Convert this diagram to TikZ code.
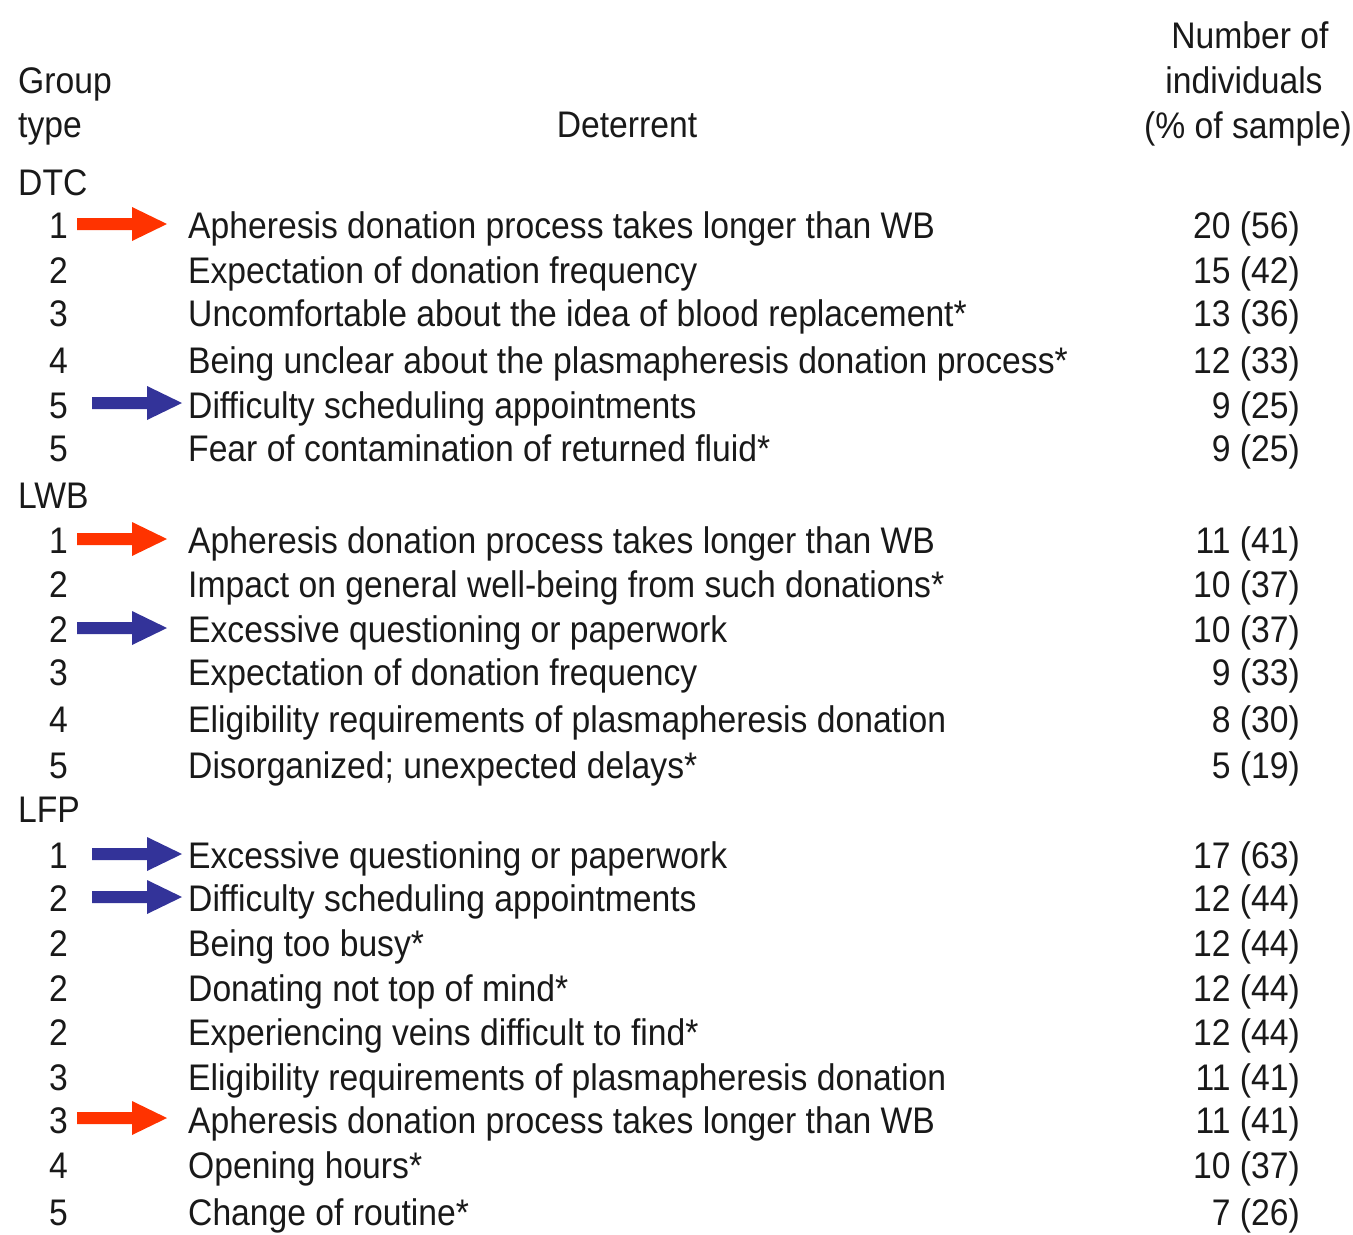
\documentclass[tikz,border=0pt]{standalone}
\usepackage{fontspec}
\setmainfont[FakeStretch=0.91]{Liberation Sans}
\definecolor{arrred}{HTML}{FF3300}
\definecolor{arrblue}{HTML}{333399}
\tikzset{
  txt/.style={inner sep=0pt, font=\fontsize{37}{44}\selectfont, text=black!90},
  lbl/.style={txt, anchor=base west},
  rk/.style={txt, anchor=base east},
  num/.style={txt, anchor=base east},
  hdr/.style={txt, anchor=base},
  fatarrow/.pic={\fill (0,-6) -- (55,-6) -- (55,-17) -- (90,0) -- (55,17) -- (55,6) -- (0,6) -- cycle;},
}
\begin{document}
\begin{tikzpicture}[x=1pt,y=-1pt]
\useasboundingbox (0,0) rectangle (1353,1235);
% headers
\node[lbl] (hg1) at (18,93) {Group};
\node[lbl] (hg2) at (18,137) {type};
\node[hdr] (hd) at (627,137) {Deterrent};
\node[hdr] (hn1) at (1250,48) {Number of};
\node[hdr] (hn2) at (1244,93) {individuals};
\node[hdr] (hn3) at (1248,138) {(\% of sample)};
% DTC
\node[lbl] (gdtc) at (18,195) {DTC};
\node[rk] (r1) at (68,238) {1};
\node[lbl] (d1) at (188,238) {Apheresis donation process takes longer than WB};
\node[num] (n1) at (1300,238) {20 (56)};
\node[rk] (r2) at (68,283) {2};
\node[lbl] (d2) at (188,283) {Expectation of donation frequency};
\node[num] (n2) at (1300,283) {15 (42)};
\node[rk] (r3) at (68,326) {3};
\node[lbl] (d3) at (188,326) {Uncomfortable about the idea of blood replacement*};
\node[num] (n3) at (1300,326) {13 (36)};
\node[rk] (r4) at (68,373) {4};
\node[lbl] (d4) at (188,373) {Being unclear about the plasmapheresis donation process*};
\node[num] (n4) at (1300,373) {12 (33)};
\node[rk] (r5) at (68,418) {5};
\node[lbl] (d5) at (188,418) {Difficulty scheduling appointments};
\node[num] (n5) at (1300,418) {9 (25)};
\node[rk] (r6) at (68,461) {5};
\node[lbl] (d6) at (188,461) {Fear of contamination of returned fluid*};
\node[num] (n6) at (1300,461) {9 (25)};
% LWB
\node[lbl] (glwb) at (18,508) {LWB};
\node[rk] (r7) at (68,553) {1};
\node[lbl] (d7) at (188,553) {Apheresis donation process takes longer than WB};
\node[num] (n7) at (1300,553) {11 (41)};
\node[rk] (r8) at (68,597) {2};
\node[lbl] (d8) at (188,597) {Impact on general well-being from such donations*};
\node[num] (n8) at (1300,597) {10 (37)};
\node[rk] (r9) at (68,642) {2};
\node[lbl] (d9) at (188,642) {Excessive questioning or paperwork};
\node[num] (n9) at (1300,642) {10 (37)};
\node[rk] (r10) at (68,685) {3};
\node[lbl] (d10) at (188,685) {Expectation of donation frequency};
\node[num] (n10) at (1300,685) {9 (33)};
\node[rk] (r11) at (68,732) {4};
\node[lbl] (d11) at (188,732) {Eligibility requirements of plasmapheresis donation};
\node[num] (n11) at (1300,732) {8 (30)};
\node[rk] (r12) at (68,778) {5};
\node[lbl] (d12) at (188,778) {Disorganized; unexpected delays*};
\node[num] (n12) at (1300,778) {5 (19)};
% LFP
\node[lbl] (glfp) at (18,822) {LFP};
\node[rk] (r13) at (68,868) {1};
\node[lbl] (d13) at (188,868) {Excessive questioning or paperwork};
\node[num] (n13) at (1300,868) {17 (63)};
\node[rk] (r14) at (68,911) {2};
\node[lbl] (d14) at (188,911) {Difficulty scheduling appointments};
\node[num] (n14) at (1300,911) {12 (44)};
\node[rk] (r15) at (68,956) {2};
\node[lbl] (d15) at (188,956) {Being too busy*};
\node[num] (n15) at (1300,956) {12 (44)};
\node[rk] (r16) at (68,1001) {2};
\node[lbl] (d16) at (188,1001) {Donating not top of mind*};
\node[num] (n16) at (1300,1001) {12 (44)};
\node[rk] (r17) at (68,1045) {2};
\node[lbl] (d17) at (188,1045) {Experiencing veins difficult to find*};
\node[num] (n17) at (1300,1045) {12 (44)};
\node[rk] (r18) at (68,1090) {3};
\node[lbl] (d18) at (188,1090) {Eligibility requirements of plasmapheresis donation};
\node[num] (n18) at (1300,1090) {11 (41)};
\node[rk] (r19) at (68,1133) {3};
\node[lbl] (d19) at (188,1133) {Apheresis donation process takes longer than WB};
\node[num] (n19) at (1300,1133) {11 (41)};
\node[rk] (r20) at (68,1178) {4};
\node[lbl] (d20) at (188,1178) {Opening hours*};
\node[num] (n20) at (1300,1178) {10 (37)};
\node[rk] (r21) at (68,1225) {5};
\node[lbl] (d21) at (188,1225) {Change of routine*};
\node[num] (n21) at (1300,1225) {7 (26)};
% arrows
\pic[arrred] at (77,224) {fatarrow};
\pic[arrred] at (77,539) {fatarrow};
\pic[arrred] at (77,1118) {fatarrow};
\pic[arrblue] at (92,403) {fatarrow};
\pic[arrblue] at (77,628) {fatarrow};
\pic[arrblue] at (92,854) {fatarrow};
\pic[arrblue] at (92,897) {fatarrow};
\end{tikzpicture}
\end{document}
